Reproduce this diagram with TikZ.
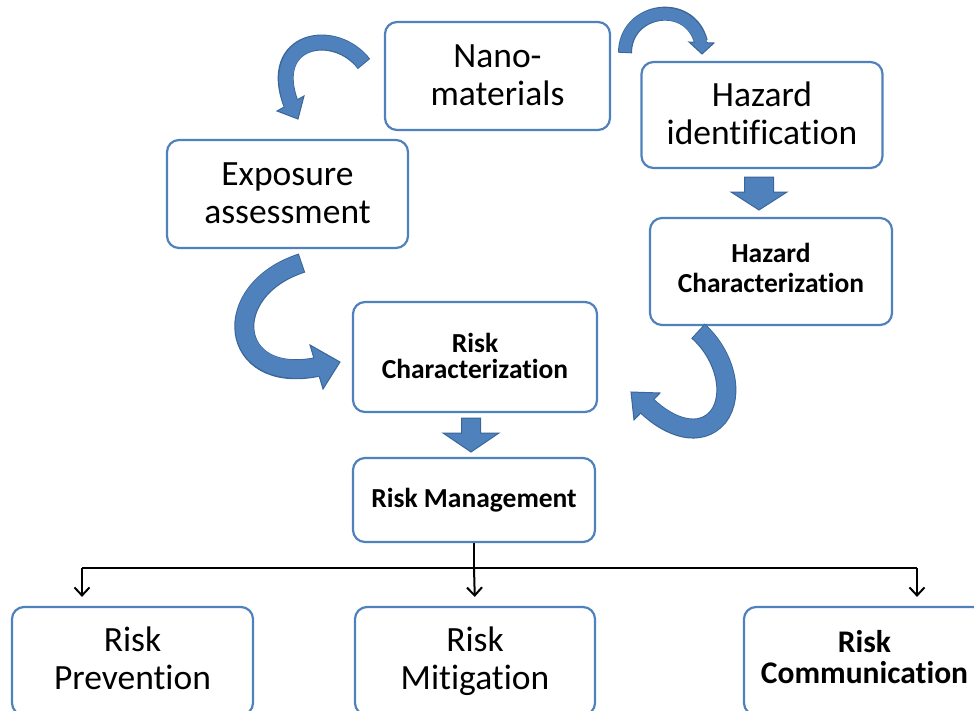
\documentclass[tikz,border=0pt]{standalone}
\usepackage{fontspec}
\setmainfont[Ligatures=NoCommon]{Carlito}
\usetikzlibrary{arrows.meta,calc}
\definecolor{boxblue}{HTML}{4F81BD}
\definecolor{arrfill}{HTML}{4F81BD}
\definecolor{arredge}{HTML}{3A6698}
\newcommand\twolines[3][0pt]{\rule{0pt}{\dimexpr0.7\baselineskip+#1\relax}#2\\#3\strut}
\tikzset{
  box/.style={draw=boxblue, line width=2.2pt, rounded corners=12pt, fill=white,
    inner sep=0pt, align=center},
  regtext/.style={font=\fontsize{35.5}{38}\selectfont},
  boldtext/.style={font=\bfseries\fontsize{27.5}{28}\selectfont},
  conn/.style={draw=black, line width=2pt},
  connarrow/.style={conn, -{Straight Barb[length=8pt,width=15pt,line width=2pt]}},
  bodyout/.style={draw=arredge, line width=#1, line cap=butt},
  bodyin/.style={draw=arrfill, line width=#1, line cap=butt, shorten >=-2pt, shorten <=1pt},
  headshape/.style={fill=arrfill, draw=arredge, line width=1pt, line join=miter},
}
\begin{document}
\begin{tikzpicture}[x=1pt,y=-1pt]
\useasboundingbox (0,0) rectangle (974,710);
\clip (0,0) rectangle (974,710);

% boxes
\node[box, regtext, minimum width=225pt, minimum height=108pt] (nano) at (497.5,76) {\twolines[6pt]{Nano-}{materials}};
\node[box, regtext, minimum width=241pt, minimum height=106pt] (hid) at (762,115) {\twolines[6pt]{Hazard}{identification}};
\node[box, regtext, minimum width=241pt, minimum height=108pt] (exp) at (287.5,194) {\twolines[6pt]{Exposure}{assessment}};
\node[box, minimum width=242pt, minimum height=107pt, font=\bfseries\fontsize{27.5}{30}\selectfont] (hch) at (771,271.5) {\twolines{Hazard}{Characterization}};
\node[box, minimum width=244pt, minimum height=110pt, font=\bfseries\fontsize{27.5}{26}\selectfont] (rch) at (475,357) {\twolines[6pt]{Risk}{Characterization}};
\node[box, boldtext, minimum width=242pt, minimum height=84pt] (rmg) at (474,500) {Risk Management};
\node[box, regtext, minimum width=241pt, minimum height=108pt] (rpv) at (132.5,661) {\twolines[3pt]{Risk}{Prevention}};
\node[box, regtext, minimum width=240pt, minimum height=108pt] (rmt) at (475,661) {\twolines[3pt]{Risk}{Mitigation}};
\node[box, font=\bfseries\fontsize{31.5}{31}\selectfont, minimum width=241pt, minimum height=108pt] (rcm) at (864.5,661) {\twolines[2pt]{Risk}{Communication}};

% tree connectors
\coordinate (hl) at (82,568);
\coordinate (hr) at (917,568);
\draw[conn] (rmg.south) -- (rmg.south |- hl);
\draw[conn] (hl) -- (hr);
\draw[connarrow, shorten >=9pt] (hl) -- (hl |- rpv.north);
\draw[connarrow, shorten >=9pt] (rmg.south |- hl) -- (rmt.north);
\draw[connarrow, shorten >=9pt] (hr) -- (hr |- rcm.north);

% straight block arrows
\coordinate (da) at (759,177);
\coordinate (db) at (471,418);
\filldraw[headshape, shift={(da)}] (-14.5,0) -- (14.5,0) -- (14.5,15) -- (28,15) -- (0,33) -- (-28,15) -- (-14.5,15) -- cycle;
\filldraw[headshape, shift={(db)}] (-9.5,0) -- (9.5,0) -- (9.5,15) -- (28,15) -- (0,34) -- (-28,15) -- (-9.5,15) -- cycle;

% curved arrow 1: nano -> exposure
\coordinate (c1s) at (364,64);
\coordinate (c1e) at (291,104);
\draw[bodyout=16pt] (c1s) .. controls (335,26) and (266,38) .. (c1e);
\filldraw[headshape] (277,111) -- (304,96) -- (298,119) -- cycle;
\draw[bodyin=14pt] (c1s) .. controls (335,26) and (266,38) .. (c1e);

% curved arrow 2: nano -> hazard id
\coordinate (c2s) at (625,53);
\coordinate (c2e) at (701,42);
\draw[bodyout=14pt] (c2s) .. controls (625,8) and (690,-2) .. (c2e);
\filldraw[headshape] (689,42) -- (714,43) -- (702,54) -- cycle;
\draw[bodyin=12pt] (c2s) .. controls (625,8) and (690,-2) .. (c2e);

% curved arrow 3: exposure -> risk char
\coordinate (c3s) at (302,263);
\coordinate (c3e) at (317,367);
\draw[bodyout=20pt] (c3s) .. controls (218,290) and (228,385) .. (c3e);
\filldraw[headshape] (310,345) -- (340,362) -- (323,389) -- cycle;
\draw[bodyin=18pt] (c3s) .. controls (218,290) and (228,385) .. (c3e);

% curved arrow 4: hazard char -> risk char
\coordinate (c4s) at (698,331);
\coordinate (c4e) at (647,406);
\draw[bodyout=20pt] (c4s) .. controls (725,355) and (735,395) .. (718,417) .. controls (700,438) and (670,428) .. (c4e);
\filldraw[headshape] (660,393) -- (631,392) -- (634,420) -- cycle;
\draw[bodyin=18pt] (c4s) .. controls (725,355) and (735,395) .. (718,417) .. controls (700,438) and (670,428) .. (c4e);
\end{tikzpicture}
\end{document}
